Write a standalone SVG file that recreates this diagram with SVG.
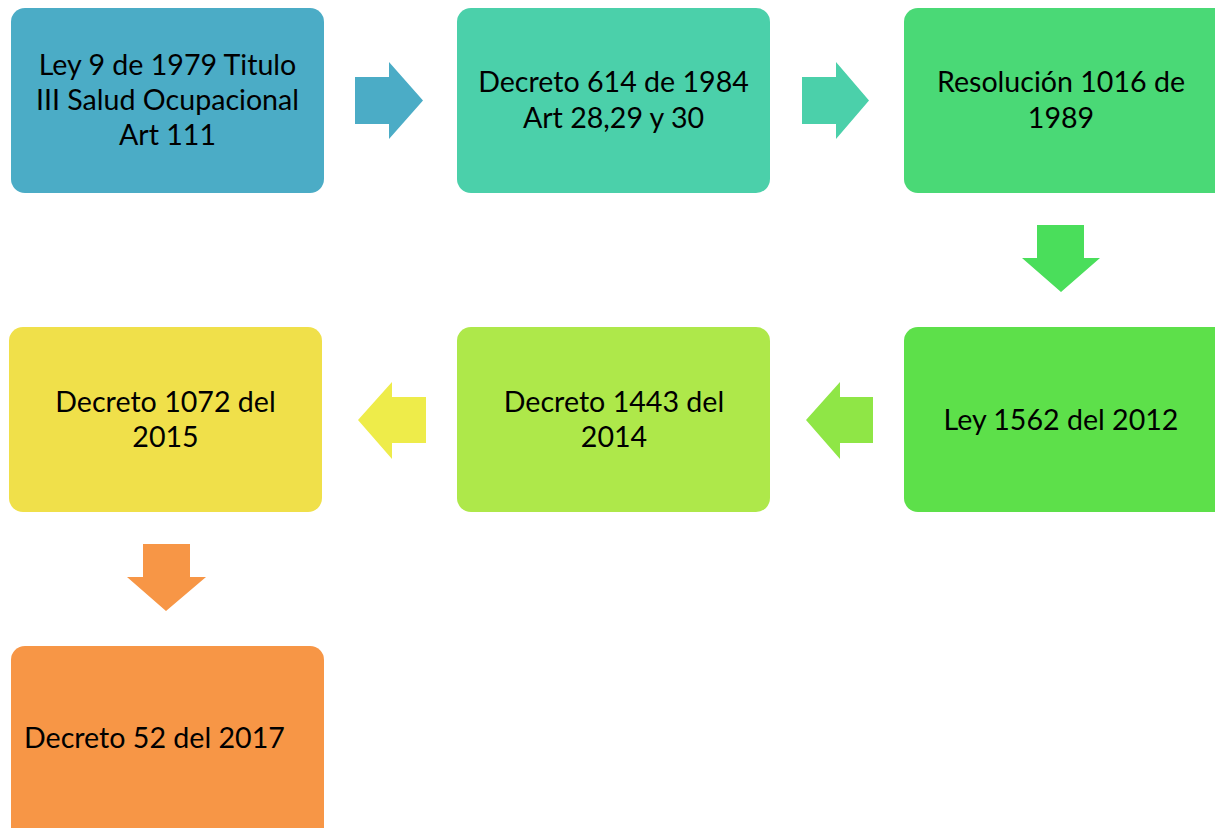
<svg xmlns="http://www.w3.org/2000/svg" width="1215" height="828" viewBox="0 0 1215 828">
<style>
text{font-family:"Lato","Liberation Sans",sans-serif;font-size:28.6px;fill:#000;text-anchor:middle}
.l{text-anchor:start}
</style>
<rect width="1215" height="828" fill="#fff"/>
<g id="connectors">
<polygon points="355,77 389,77 389,62 423,100.5 389,139 389,124 355,124" fill="#4bacc6"/>
<polygon points="802,77 836,77 836,62 869,100.5 836,139 836,124 802,124" fill="#4bd0aa"/>
<polygon points="1037,225 1084,225 1084,258 1100,258 1061,292 1022,258 1037,258" fill="#4ade5b"/>
<polygon points="873,397 840,397 840,382 806,420 840,459 840,443 873,443" fill="#8fe646"/>
<polygon points="426,397 392,397 392,382 358,420 392,459 392,443 426,443" fill="#eeec4a"/>
<polygon points="143,544 190,544 190,577 206,577 166,611 127,577 143,577" fill="#f79646"/>
</g>
<g id="n1"><rect x="11" y="8" width="313" height="185" rx="14" fill="#4bacc6"/>
<text x="167.5" y="75">Ley 9 de 1979 Titulo</text><text x="167.5" y="110">III Salud Ocupacional</text><text x="167.5" y="145">Art 111</text></g>
<g id="n2"><rect x="457" y="8" width="313" height="185" rx="14" fill="#4bd0aa"/>
<text x="613.5" y="92">Decreto 614 de 1984</text><text x="613.5" y="128">Art 28,29 y 30</text></g>
<g id="n3"><rect x="904" y="8" width="325" height="185" rx="14" fill="#4ad976"/>
<text x="1061" y="92">Resolución 1016 de</text><text x="1061" y="128">1989</text></g>
<g id="n4"><rect x="904" y="327" width="325" height="185" rx="14" fill="#5de04a"/>
<text x="1061" y="430">Ley 1562 del 2012</text></g>
<g id="n5"><rect x="457" y="327" width="313" height="185" rx="14" fill="#aee84a"/>
<text x="614" y="412">Decreto 1443 del</text><text x="614" y="447">2014</text></g>
<g id="n6"><rect x="9" y="327" width="313" height="185" rx="14" fill="#f0e04a"/>
<text x="165.5" y="412">Decreto 1072 del</text><text x="165.5" y="447">2015</text></g>
<g id="n7"><rect x="11" y="646" width="313" height="200" rx="14" fill="#f79646"/>
<text class="l" x="24" y="748">Decreto 52 del 2017</text></g>
</svg>
